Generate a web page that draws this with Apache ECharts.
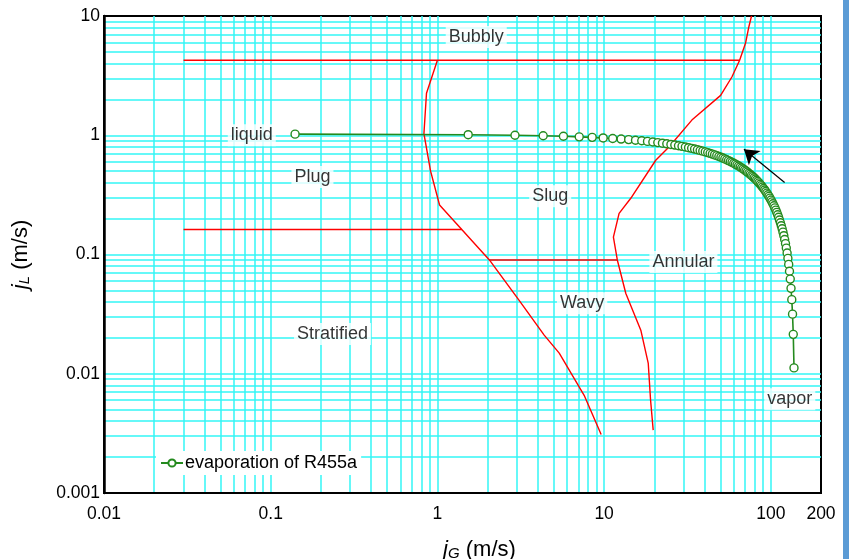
<!DOCTYPE html>
<html>
<head>
<meta charset="utf-8">
<script src="https://cdn.jsdelivr.net/npm/echarts@6/dist/echarts.min.js"></script>
<style>html,body{margin:0;padding:0;background:#fff}#c{width:849px;height:559px}</style>
</head>
<body>
<div id="c"></div>
<script>
// ---- data ----
const seriesName = 'evaporation of R455a';
const jG = [0.14,1.53,2.92,4.31,5.70,7.09,8.48,9.87,11.26,12.65,
 14.04,15.43,16.82,18.21,19.60,20.99,22.38,23.77,25.16,26.55,
 27.94,29.33,30.72,32.11,33.50,34.89,36.28,37.67,39.06,40.45,
 41.84,43.23,44.62,46.01,47.40,48.79,50.18,51.57,52.96,54.35,
 55.74,57.13,58.52,59.91,61.30,62.69,64.08,65.47,66.86,68.25,
 69.64,71.03,72.42,73.81,75.20,76.59,77.98,79.37,80.76,82.15,
 83.54,84.93,86.32,87.71,89.10,90.49,91.88,93.27,94.66,96.05,
 97.44,98.83,100.22,101.61,103.00,104.39,105.78,107.17,108.56,109.95,
 111.34,112.73,114.12,115.51,116.90,118.29,119.68,121.07,122.46,123.85,
 125.24,126.63,128.02,129.41,130.80,132.19,133.58,134.97,136.36,137.75];
const jL = [1.021,1.0108,1.0006,0.9904,0.9802,0.9700,0.9598,0.9496,0.9394,0.9292,
 0.9190,0.9088,0.8986,0.8884,0.8782,0.8680,0.8578,0.8476,0.8374,0.8272,
 0.8170,0.8068,0.7966,0.7864,0.7762,0.7660,0.7558,0.7456,0.7354,0.7252,
 0.7150,0.7048,0.6946,0.6844,0.6742,0.6640,0.6538,0.6436,0.6334,0.6232,
 0.6130,0.6028,0.5926,0.5824,0.5722,0.5620,0.5518,0.5416,0.5314,0.5212,
 0.5110,0.5008,0.4906,0.4804,0.4702,0.4600,0.4498,0.4396,0.4294,0.4192,
 0.4090,0.3988,0.3886,0.3784,0.3682,0.3580,0.3478,0.3376,0.3274,0.3172,
 0.3070,0.2968,0.2866,0.2764,0.2662,0.2560,0.2458,0.2356,0.2254,0.2152,
 0.2050,0.1948,0.1846,0.1744,0.1642,0.1540,0.1438,0.1336,0.1234,0.1132,
 0.1030,0.0928,0.0826,0.0724,0.0622,0.0520,0.0418,0.0316,0.0214,0.0112];

// flow-pattern map boundaries [jG, jL]
const bubblyLine = [[0.03,4.25],[65,4.25]];
const bubblyIntermittent = [[1.0,4.25],[0.86,2.25],[0.83,1.03],[0.91,0.5],[1.03,0.26],[1.4,0.162],[2.05,0.09],[3.1,0.041],[4.37,0.0211],[5.38,0.0149],[7.59,0.0066],[9.6,0.0031]];
const stratifiedLine = [[0.03,0.162],[1.4,0.162]];
const wavyAnnularLine = [[2.05,0.09],[12.0,0.09]];
const annularBoundary = [[76.6,10],[73.8,8.09],[70.5,5.9],[65,4.25],[58.4,3.08],[50,2.16],[33.6,1.34],[24.5,0.798],[20.4,0.617],[14.45,0.296],[12.3,0.221],[11.37,0.14],[12.0,0.09],[13.5,0.0471],[16.6,0.0232],[18.4,0.0122],[19.0,0.006],[19.7,0.00337]];
const arrowCoords = [[121,0.402],[69,0.763]];

// region labels [jG, jL, text]
const regionLabels = [[1.71,6.67,'Bubbly'],[0.077,1.0,'liquid'],[0.178,0.447,'Plug'],[4.75,0.308,'Slug'],
  [29.9,0.0867,'Annular'],[7.38,0.039,'Wavy'],[0.235,0.0215,'Stratified'],[130,0.0061,'vapor']];

const xTickLabels = [0.01,0.1,1,10,100,200];
const yTickLabels = [0.001,0.01,0.1,1,10];
const xGrid = [], yGrid = [];
[0.01,0.1,1,10,100].forEach(d=>{for(let m=1;m<=9;m++){const v=+(d*m).toPrecision(3); if(v>0.01 && v<200) xGrid.push(v);}});
[0.001,0.01,0.1,1].forEach(d=>{for(let m=1;m<=9;m++){const v=+(d*m).toPrecision(3); if(v>0.001) yGrid.push(v);}});

const chart = echarts.init(document.getElementById('c'), null, {renderer:'canvas'});
const FONT = 'Liberation Sans, Arial, sans-serif';
const gridColor = '#33f6f6';
const red = '#ff0000';
const green = '#248a1e';
function redSeries(name, data){
  return {name, type:'line', data, showSymbol:false, symbol:'none', silent:true,
    lineStyle:{color:red, width:1.4}, z:3, animation:false};
}
const fmt = v => String(+(+v).toPrecision(3));
const nameRich = {i:{fontSize:22, fontStyle:'italic', fontFamily:FONT, color:'#000'},
      s:{fontSize:15, fontStyle:'italic', fontFamily:FONT, verticalAlign:'bottom', color:'#000', padding:[8,0,0,0]},
      n:{fontSize:22, fontFamily:FONT, color:'#000'}};

chart.setOption({
  animation:false,
  textStyle:{fontFamily:FONT},
  grid:{left:104, top:16, right:28, bottom:66, containLabel:false, outerBoundsMode:'none',
    show:true, borderColor:'#000', borderWidth:2, backgroundColor:'#fff'},
  legend:{data:[seriesName], left:156, top:451, backgroundColor:'#fff', padding:[3,4,3,4],
    itemWidth:22, itemHeight:9, itemGap:0, textStyle:{fontSize:18, color:'#000', fontFamily:FONT, padding:[0,0,0,-3]},
    selectedMode:false},
  xAxis:{type:'log', logBase:10, min:0.01, max:200,
    axisLine:{show:true, onZero:false, lineStyle:{color:'#000', width:2}},
    axisTick:{show:false, customValues:xGrid},
    splitLine:{show:true, lineStyle:{color:gridColor, width:1.5}},
    axisLabel:{customValues:xTickLabels, formatter:fmt, fontSize:17.5, color:'#000', margin:12, fontFamily:FONT},
    name:'{i|j}{s|G}{n| (m/s)}', nameLocation:'middle', nameGap:45,
    nameTextStyle:{padding:[0,0,0,34], rich:nameRich}
  },
  yAxis:{type:'log', logBase:10, min:0.001, max:10,
    axisLine:{show:true, onZero:false, lineStyle:{color:'#000', width:2.5}},
    axisTick:{show:false, customValues:yGrid},
    splitLine:{show:true, lineStyle:{color:gridColor, width:1.5}},
    axisLabel:{customValues:yTickLabels, formatter:fmt, fontSize:17.5, color:'#000', margin:4, fontFamily:FONT},
    name:'{i|j}{s|L}{n| (m/s)}', nameLocation:'middle', nameGap:72, nameRotate:90,
    nameTextStyle:{rich:nameRich}
  },
  graphic:[{type:'rect', right:0, top:0, shape:{width:6, height:559}, style:{fill:'#5b9bd5'}}],
  series:[
    redSeries('bubbly', bubblyLine),
    redSeries('bi', bubblyIntermittent),
    redSeries('strat', stratifiedLine),
    redSeries('wa', wavyAnnularLine),
    redSeries('ann', annularBoundary),
    {name:seriesName, type:'line', data:jG.map((g,i)=>[g,jL[i]]), symbol:'circle', symbolSize:8, showSymbol:true,
      itemStyle:{color:'#fff', borderColor:green, borderWidth:1.4}, lineStyle:{color:green, width:1.6}, z:5},
    {name:'arrow', type:'lines', coordinateSystem:'cartesian2d', silent:true, z:6,
      symbol:['none','arrow'], symbolSize:[0,14],
      lineStyle:{color:'#000', width:1.2, opacity:1}, data:[{coords:arrowCoords}]},
    {name:'labels', type:'scatter', symbolSize:0, silent:true, z:4,
      data:regionLabels,
      label:{show:true, position:'inside', formatter:p=>p.data[2], fontSize:18, color:'#000', fontFamily:FONT,
        backgroundColor:'#fff', padding:[2,3,2,3]}}
  ]
});
</script>
</body>
</html>
